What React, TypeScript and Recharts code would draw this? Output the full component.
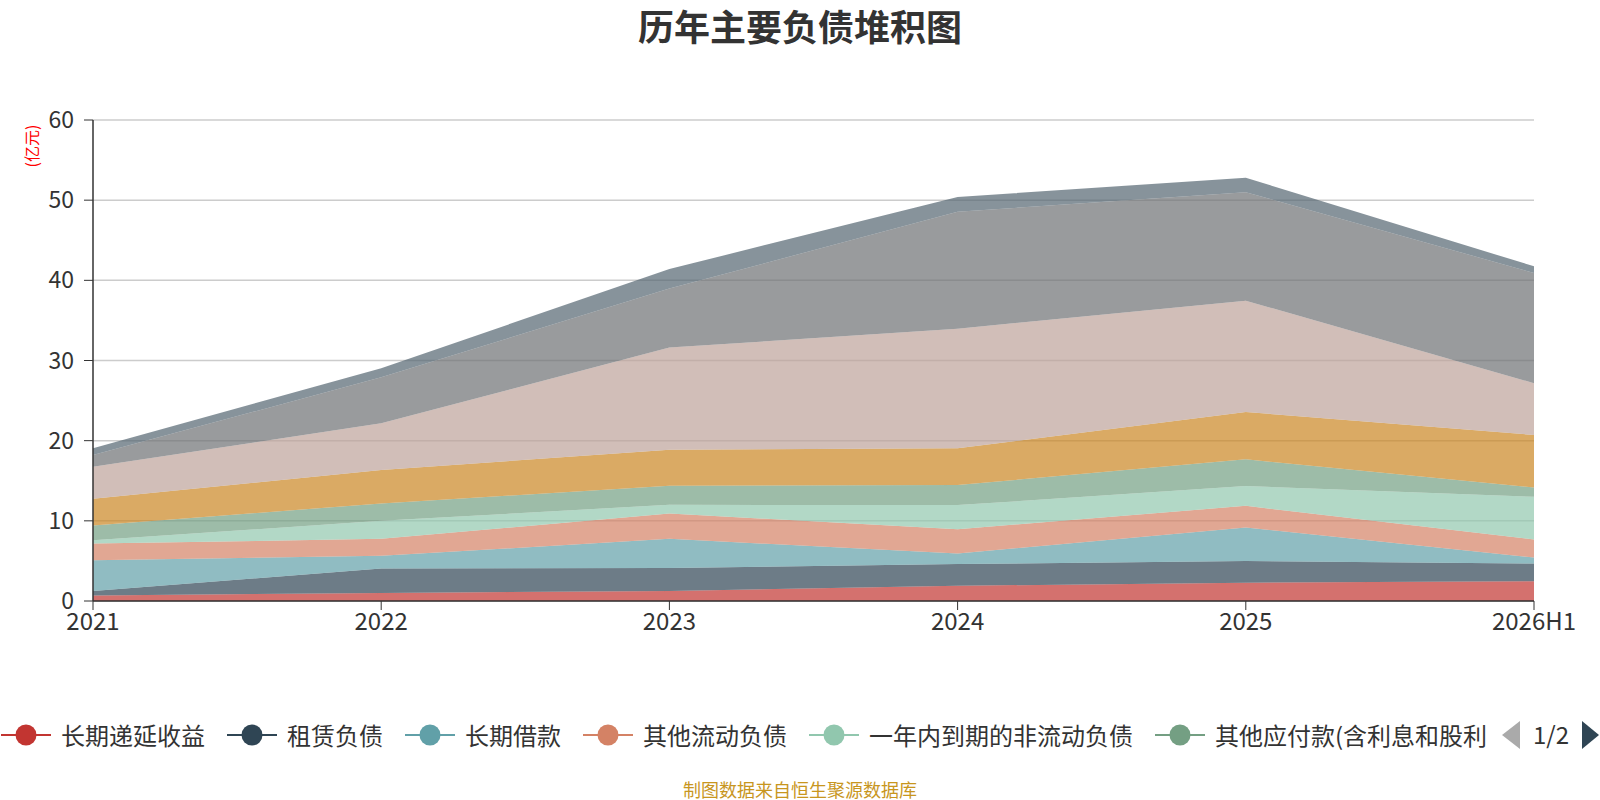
import React from 'react';
import { AreaChart, Area, XAxis, YAxis, CartesianGrid } from 'recharts';

// categories
const years = ['2021', '2022', '2023', '2024', '2025', '2026H1'];

// series values (亿元), bottom of stack first
const deferredIncome = [0.7, 1.0, 1.25, 1.9, 2.29, 2.46];
const leaseLiab = [0.55, 3.04, 2.88, 2.7, 2.71, 2.21];
const longTermLoan = [3.83, 1.59, 3.62, 1.32, 4.17, 0.75];
const otherCurrentLiab = [2.09, 2.12, 3.15, 3.04, 2.7, 2.25];
const dueWithinYear = [0.41, 2.25, 1.1, 3.0, 2.46, 5.33];
const otherPayables = [1.84, 2.17, 2.38, 2.5, 3.34, 1.17];
const notesPayable = [3.33, 4.16, 4.5, 4.58, 5.91, 6.54];
const accountsPayable = [4.0, 5.84, 12.73, 14.92, 13.88, 6.46];
const shortTermLoan = [1.45, 5.73, 7.36, 14.58, 13.54, 13.75];
const contractLiab = [0.84, 1.14, 2.44, 1.86, 1.79, 0.83];

const seriesNames = [
  '长期递延收益',
  '租赁负债',
  '长期借款',
  '其他流动负债',
  '一年内到期的非流动负债',
  '其他应付款(含利息和股利',
  '应付票据',
  '应付账款',
  '短期借款',
  '合同负债',
];
const seriesValues = [
  deferredIncome,
  leaseLiab,
  longTermLoan,
  otherCurrentLiab,
  dueWithinYear,
  otherPayables,
  notesPayable,
  accountsPayable,
  shortTermLoan,
  contractLiab,
];
const palette = ['#c23531', '#2f4554', '#61a0a8', '#d48265', '#91c7ae', '#749f83', '#ca8622', '#bda29a', '#6e7074', '#546570'];

const yTicks = [0, 10, 20, 30, 40, 50, 60];
const legendPageSize = 6;

const rows = years.map((year, i) => {
  const row: Record<string, string | number> = { year };
  seriesNames.forEach((name, s) => {
    row['s' + s] = seriesValues[s][i];
  });
  return row;
});

const FONT = '"Noto Sans CJK SC", "Noto Sans", sans-serif';

const LegendIcon: React.FC<{ color: string }> = ({ color }) => (
  <svg width={50} height={24} style={{ display: 'block' }}>
    <line x1={0} y1={12} x2={50} y2={12} stroke={color} strokeWidth={2} />
    <circle cx={25} cy={12} r={10.5} fill={color} />
  </svg>
);

export default function App() {
  return (
    <div style={{ position: 'absolute', left: 0, top: 0, width: 1600, height: 800, background: '#fff', fontFamily: FONT }}>
      <div
        style={{
          position: 'absolute',
          top: 7,
          left: 0,
          width: 1600,
          textAlign: 'center',
          fontSize: 36,
          lineHeight: '36px',
          fontWeight: 'bold',
          color: '#333',
        }}
      >
        历年主要负债堆积图
      </div>
      <div
        style={{
          position: 'absolute',
          left: 31,
          top: 146,
          transform: 'translate(-50%, -50%) rotate(-90deg)',
          color: '#ff0000',
          fontSize: 16,
          lineHeight: '16px',
          whiteSpace: 'nowrap',
        }}
      >
        (亿元)
      </div>

      <AreaChart
        width={1600}
        height={800}
        data={rows}
        margin={{ top: 120, right: 66, left: 33, bottom: 169 }}
        style={{ position: 'absolute', left: 0, top: 0 }}
      >
        <CartesianGrid vertical={false} stroke="#cccccc" strokeWidth={1.5} />
        <XAxis
          dataKey="year"
          height={30}
          interval={0}
          tickSize={9}
          tickMargin={3}
          stroke="#333"
          axisLine={{ stroke: '#333', strokeWidth: 1.5 }}
          tick={{ fill: '#333', fontSize: 24, fontFamily: FONT }}
        />
        <YAxis
          width={60}
          domain={[0, 60]}
          ticks={yTicks}
          tickSize={9}
          tickMargin={10}
          stroke="#333"
          axisLine={{ stroke: '#333', strokeWidth: 1.5 }}
          tick={{ fill: '#333', fontSize: 23, fontFamily: FONT }}
        />
        {seriesNames.map((name, s) => (
          <Area
            key={name}
            type="linear"
            dataKey={'s' + s}
            name={name}
            stackId="debt"
            stroke="none"
            fill={palette[s]}
            fillOpacity={0.7}
            dot={false}
            activeDot={false}
            isAnimationActive={false}
          />
        ))}
      </AreaChart>

      <div
        style={{
          position: 'absolute',
          left: 1,
          top: 723,
          height: 24,
          display: 'flex',
          alignItems: 'center',
          gap: 22,
          fontSize: 24,
          lineHeight: '24px',
          color: '#333',
          whiteSpace: 'nowrap',
        }}
      >
        {seriesNames.slice(0, legendPageSize).map((name, s) => (
          <div key={name} style={{ display: 'flex', alignItems: 'center', gap: 10 }}>
            <LegendIcon color={palette[s]} />
            <span>{name}</span>
          </div>
        ))}
      </div>
      <svg width={100} height={40} style={{ position: 'absolute', left: 1500, top: 715 }}>
        <polygon points="20,6 20,34 2,20" fill="#aaaaaa" />
        <text x={51} y={29} textAnchor="middle" fontSize={24} fill="#333" fontFamily={FONT}>
          1/2
        </text>
        <polygon points="82,6 82,34 99,20" fill="#2f4554" />
      </svg>

      <div
        style={{
          position: 'absolute',
          top: 780,
          left: 0,
          width: 1600,
          textAlign: 'center',
          fontSize: 18,
          lineHeight: '18px',
          color: '#c8961e',
        }}
      >
        制图数据来自恒生聚源数据库
      </div>
    </div>
  );
}
